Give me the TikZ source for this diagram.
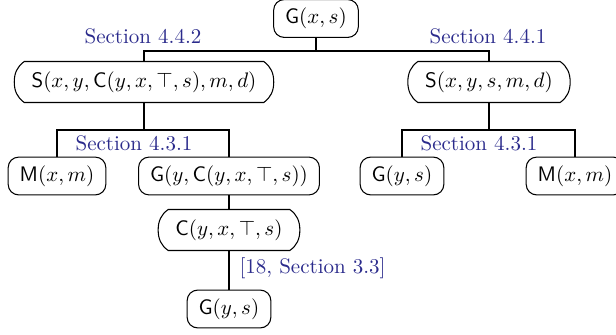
\documentclass[tikz,border=0pt]{standalone}
\usetikzlibrary{calc}
\definecolor{refblue}{rgb}{0.17,0.17,0.55}
\newcommand\chamf[1]{%
  \draw ($(#1.north west)+(10,0)$) -- ($(#1.north east)+(-10,0)$)
    .. controls ($(#1.north east)+(-3,5)$) and ($(#1.east)+(0,-9)$) .. (#1.east)
    .. controls ($(#1.east)+(0,9)$) and ($(#1.south east)+(-3,-5)$) .. ($(#1.south east)+(-10,0)$)
    -- ($(#1.south west)+(10,0)$)
    .. controls ($(#1.south west)+(3,-5)$) and ($(#1.west)+(0,9)$) .. (#1.west)
    .. controls ($(#1.west)+(0,-9)$) and ($(#1.north west)+(3,5)$) .. cycle;}
\begin{document}
\begin{tikzpicture}[x=0.476pt,y=-0.476pt, line width=0.5pt,
  rbox/.style={draw, rounded corners=5pt, inner xsep=5.5pt, inner ysep=4pt},
  cbox/.style={inner xsep=8pt, inner ysep=4.5pt},
  lab/.style={text=refblue, inner sep=1pt}]
\useasboundingbox (0,0) rectangle (616,334);
% nodes
\node[rbox] (root) at (316,18.5) {$\mathsf{G}(x,s)$};
\node[cbox] (SL) at (144,82) {$\mathsf{S}(x,y,\mathsf{C}(y,x,\top,s),m,d)$};
\node[cbox] (SR) at (489,82) {$\mathsf{S}(x,y,s,m,d)$};
\node[rbox] (M1) at (57,176) {$\mathsf{M}(x,m)$};
\node[rbox] (G1) at (229,176) {$\mathsf{G}(y,\mathsf{C}(y,x,\top,s))$};
\node[rbox] (G2R) at (402,176) {$\mathsf{G}(y,s)$};
\node[rbox] (M2) at (575,176) {$\mathsf{M}(x,m)$};
\node[cbox] (C) at (229,230) {$\mathsf{C}(y,x,\top,s)$};
\node[rbox] (G2) at (229,309) {$\mathsf{G}(y,s)$};
\chamf{SL}
\chamf{SR}
\chamf{C}
% labels
\node[lab] (l1) at (143,36) {Section 4.4.2};
\node[lab] (l2) at (488,36) {Section 4.4.1};
\node[lab] (l3) at (134,143) {Section 4.3.1};
\node[lab] (l4) at (479,143) {Section 4.3.1};
\node[lab, anchor=west] (l5) at (237,268) {[18, Section 3.3]};
% connectors
\coordinate (j1) at (316,51);
\coordinate (j2) at (144,130);
\coordinate (j3) at (489,130);
\draw (root.south) -- (j1);
\draw (SL.north) |- (j1) -| (SR.north);
\draw (SL.south) -- (j2);
\draw (M1.north) |- (j2) -| (G1.north);
\draw (SR.south) -- (j3);
\draw (G2R.north) |- (j3) -| (M2.north);
\draw (G1.south) -- (C.north);
\draw (C.south) -- (G2.north);
\end{tikzpicture}
\end{document}
